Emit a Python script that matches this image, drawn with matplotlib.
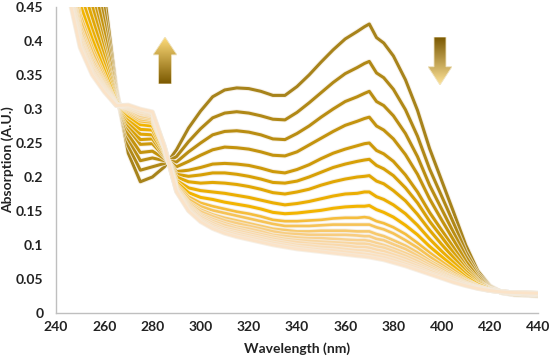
import numpy as np
import matplotlib
matplotlib.use("Agg")
import matplotlib.pyplot as plt
import matplotlib.patheffects as pe
from matplotlib.colors import LinearSegmentedColormap
from matplotlib.patches import Polygon

plt.rcParams['font.family'] = ['Lato', 'DejaVu Sans']

wavelength = [240, 245, 250, 255, 260, 265, 270, 275, 280, 285, 290, 295, 300, 305,
              310, 315, 320, 325, 330, 335, 340, 345, 350, 355, 360, 365, 368, 370,
              373, 376, 380, 385, 390, 395, 400, 405, 410, 415, 420, 425, 430, 440]

s01 = [0.95, 0.80, 0.68, 0.59, 0.47, 0.33, 0.235, 0.193, 0.200, 0.215, 0.240, 0.272, 0.297, 0.318,
       0.328, 0.331, 0.330, 0.326, 0.320, 0.320, 0.333, 0.350, 0.369, 0.387, 0.403, 0.414, 0.421, 0.425,
       0.405, 0.397, 0.378, 0.343, 0.298, 0.242, 0.195, 0.148, 0.100, 0.062, 0.040, 0.030, 0.027, 0.025]
s02 = [0.888, 0.747, 0.634, 0.552, 0.447, 0.326, 0.246, 0.210, 0.215, 0.220, 0.230, 0.252, 0.271, 0.287,
       0.294, 0.296, 0.294, 0.290, 0.285, 0.284, 0.295, 0.309, 0.324, 0.339, 0.352, 0.361, 0.367, 0.370,
       0.353, 0.346, 0.329, 0.299, 0.260, 0.212, 0.172, 0.132, 0.090, 0.058, 0.039, 0.030, 0.027, 0.026]
s03 = [0.837, 0.704, 0.596, 0.520, 0.428, 0.323, 0.256, 0.224, 0.228, 0.224, 0.222, 0.237, 0.250, 0.262,
       0.267, 0.268, 0.266, 0.262, 0.256, 0.255, 0.264, 0.275, 0.288, 0.300, 0.311, 0.318, 0.323, 0.326,
       0.311, 0.305, 0.290, 0.264, 0.230, 0.188, 0.153, 0.118, 0.083, 0.055, 0.038, 0.030, 0.028, 0.026]
s04 = [0.794, 0.668, 0.564, 0.494, 0.412, 0.320, 0.263, 0.236, 0.238, 0.227, 0.215, 0.223, 0.232, 0.240,
       0.244, 0.243, 0.241, 0.237, 0.232, 0.231, 0.237, 0.247, 0.257, 0.267, 0.276, 0.282, 0.286, 0.288,
       0.275, 0.269, 0.256, 0.233, 0.204, 0.168, 0.137, 0.107, 0.076, 0.052, 0.037, 0.030, 0.028, 0.027]
s05 = [0.751, 0.632, 0.532, 0.468, 0.396, 0.317, 0.271, 0.248, 0.249, 0.230, 0.208, 0.210, 0.214, 0.219,
       0.220, 0.219, 0.217, 0.213, 0.208, 0.206, 0.211, 0.218, 0.227, 0.235, 0.241, 0.246, 0.249, 0.250,
       0.239, 0.234, 0.223, 0.203, 0.178, 0.148, 0.122, 0.096, 0.069, 0.049, 0.036, 0.031, 0.029, 0.027]
s06 = [0.724, 0.609, 0.512, 0.451, 0.386, 0.316, 0.276, 0.255, 0.256, 0.232, 0.204, 0.201, 0.203, 0.206,
       0.206, 0.204, 0.201, 0.197, 0.192, 0.191, 0.194, 0.200, 0.207, 0.214, 0.219, 0.223, 0.225, 0.226,
       0.217, 0.212, 0.202, 0.184, 0.162, 0.135, 0.112, 0.088, 0.065, 0.047, 0.036, 0.031, 0.029, 0.027]
s07 = [0.697, 0.586, 0.492, 0.434, 0.376, 0.314, 0.281, 0.263, 0.262, 0.235, 0.200, 0.193, 0.191, 0.192,
       0.191, 0.189, 0.186, 0.182, 0.177, 0.175, 0.178, 0.182, 0.188, 0.193, 0.197, 0.200, 0.201, 0.202,
       0.194, 0.190, 0.180, 0.165, 0.145, 0.122, 0.101, 0.081, 0.061, 0.045, 0.036, 0.031, 0.029, 0.028]
s08 = [0.669, 0.562, 0.471, 0.417, 0.366, 0.312, 0.286, 0.270, 0.269, 0.237, 0.195, 0.184, 0.180, 0.178,
       0.176, 0.173, 0.170, 0.166, 0.162, 0.159, 0.161, 0.164, 0.168, 0.172, 0.175, 0.176, 0.178, 0.178,
       0.171, 0.167, 0.159, 0.146, 0.129, 0.109, 0.091, 0.074, 0.057, 0.043, 0.035, 0.031, 0.029, 0.028]
s09 = [0.646, 0.543, 0.454, 0.403, 0.357, 0.311, 0.290, 0.277, 0.275, 0.238, 0.192, 0.177, 0.170, 0.167,
       0.163, 0.160, 0.157, 0.153, 0.148, 0.146, 0.147, 0.149, 0.151, 0.154, 0.156, 0.157, 0.157, 0.158,
       0.152, 0.148, 0.141, 0.129, 0.115, 0.098, 0.083, 0.068, 0.053, 0.042, 0.035, 0.031, 0.029, 0.028]
s10 = [0.626, 0.526, 0.439, 0.391, 0.350, 0.309, 0.294, 0.282, 0.280, 0.240, 0.189, 0.171, 0.162, 0.157,
       0.153, 0.149, 0.146, 0.142, 0.137, 0.135, 0.135, 0.136, 0.137, 0.139, 0.140, 0.140, 0.141, 0.140,
       0.135, 0.132, 0.126, 0.116, 0.103, 0.089, 0.076, 0.063, 0.050, 0.040, 0.034, 0.031, 0.030, 0.028]
s11 = [0.615, 0.516, 0.431, 0.384, 0.345, 0.309, 0.296, 0.285, 0.283, 0.241, 0.187, 0.167, 0.157, 0.151,
       0.147, 0.143, 0.139, 0.135, 0.131, 0.128, 0.128, 0.128, 0.129, 0.130, 0.130, 0.130, 0.130, 0.130,
       0.126, 0.123, 0.117, 0.107, 0.096, 0.083, 0.071, 0.059, 0.048, 0.040, 0.034, 0.031, 0.030, 0.028]
s12 = [0.603, 0.506, 0.422, 0.376, 0.341, 0.308, 0.298, 0.288, 0.285, 0.242, 0.185, 0.163, 0.152, 0.145,
       0.140, 0.136, 0.132, 0.128, 0.124, 0.122, 0.120, 0.120, 0.121, 0.121, 0.121, 0.120, 0.120, 0.120,
       0.116, 0.113, 0.107, 0.099, 0.089, 0.077, 0.067, 0.056, 0.047, 0.039, 0.034, 0.031, 0.030, 0.029]
s13 = [0.595, 0.500, 0.416, 0.372, 0.338, 0.307, 0.300, 0.290, 0.287, 0.242, 0.184, 0.161, 0.149, 0.142,
       0.136, 0.132, 0.128, 0.124, 0.120, 0.117, 0.116, 0.115, 0.115, 0.115, 0.115, 0.114, 0.113, 0.113,
       0.109, 0.107, 0.101, 0.094, 0.084, 0.074, 0.064, 0.054, 0.045, 0.038, 0.034, 0.031, 0.030, 0.029]
s14 = [0.587, 0.493, 0.410, 0.367, 0.335, 0.307, 0.301, 0.293, 0.289, 0.243, 0.182, 0.159, 0.145, 0.138,
       0.132, 0.127, 0.124, 0.120, 0.115, 0.113, 0.111, 0.110, 0.110, 0.109, 0.108, 0.107, 0.107, 0.106,
       0.103, 0.100, 0.095, 0.088, 0.080, 0.070, 0.061, 0.052, 0.044, 0.038, 0.034, 0.031, 0.030, 0.029]
s15 = [0.582, 0.488, 0.406, 0.363, 0.333, 0.306, 0.302, 0.294, 0.291, 0.243, 0.181, 0.157, 0.143, 0.135,
       0.129, 0.124, 0.120, 0.116, 0.112, 0.109, 0.107, 0.106, 0.105, 0.104, 0.103, 0.102, 0.102, 0.101,
       0.098, 0.096, 0.091, 0.084, 0.076, 0.067, 0.059, 0.051, 0.043, 0.037, 0.033, 0.031, 0.030, 0.029]
s16 = [0.576, 0.483, 0.402, 0.360, 0.331, 0.306, 0.303, 0.296, 0.292, 0.244, 0.180, 0.155, 0.141, 0.132,
       0.125, 0.121, 0.117, 0.113, 0.109, 0.106, 0.104, 0.102, 0.101, 0.100, 0.099, 0.097, 0.097, 0.096,
       0.093, 0.091, 0.086, 0.080, 0.072, 0.064, 0.057, 0.049, 0.042, 0.037, 0.033, 0.031, 0.030, 0.029]
s17 = [0.570, 0.478, 0.397, 0.356, 0.329, 0.306, 0.304, 0.297, 0.294, 0.244, 0.180, 0.153, 0.138, 0.129,
       0.122, 0.118, 0.114, 0.110, 0.106, 0.103, 0.100, 0.099, 0.097, 0.096, 0.094, 0.092, 0.092, 0.091,
       0.088, 0.086, 0.082, 0.076, 0.069, 0.062, 0.055, 0.048, 0.042, 0.037, 0.033, 0.031, 0.030, 0.029]
s18 = [0.565, 0.474, 0.393, 0.353, 0.327, 0.305, 0.305, 0.299, 0.295, 0.245, 0.179, 0.151, 0.136, 0.126,
       0.120, 0.115, 0.111, 0.107, 0.103, 0.100, 0.097, 0.095, 0.093, 0.092, 0.090, 0.088, 0.087, 0.086,
       0.084, 0.082, 0.078, 0.072, 0.066, 0.059, 0.053, 0.046, 0.041, 0.036, 0.033, 0.031, 0.030, 0.029]
s19 = [0.56, 0.47, 0.39, 0.35, 0.325, 0.305, 0.306, 0.300, 0.296, 0.245, 0.178, 0.150, 0.134, 0.124,
       0.117, 0.112, 0.108, 0.104, 0.100, 0.097, 0.094, 0.092, 0.090, 0.088, 0.086, 0.084, 0.083, 0.082,
       0.080, 0.078, 0.074, 0.069, 0.063, 0.057, 0.051, 0.045, 0.040, 0.036, 0.033, 0.031, 0.030, 0.029]

series = [s01, s02, s03, s04, s05, s06, s07, s08, s09, s10,
          s11, s12, s13, s14, s15, s16, s17, s18, s19]

colors = ['#A7831B', '#B08816', '#B98D12', '#C3930E', '#CD990A', '#D7A006', '#E1A704',
          '#EBAE02', '#F2B400', '#F5BD3C', '#F6C356', '#F7C96C', '#F8CD80', '#F9D291',
          '#F9D69F', '#FAD9AB', '#FADDB6', '#FBE0BF', '#FBE3C8']

x_ticks = [240, 260, 280, 300, 320, 340, 360, 380, 400, 420, 440]
y_ticks = [0, 0.05, 0.1, 0.15, 0.2, 0.25, 0.3, 0.35, 0.4, 0.45]
y_tick_labels = ['0', '0.05', '0.1', '0.15', '0.2', '0.25', '0.3', '0.35', '0.4', '0.45']

fig = plt.figure(figsize=(5.5, 3.59), dpi=100)
ax = fig.add_axes([56/550, 1-313/359, 482/550, 306/359])

for i, (vals, col) in enumerate(zip(series, colors)):
    lw = 2.2 if i < 9 else 1.9
    ax.plot(wavelength, vals, color=col, lw=lw, solid_joinstyle='round', solid_capstyle='round',
            path_effects=[pe.Stroke(linewidth=lw + 1.4, foreground='#F4EBDD', alpha=0.75), pe.Normal()],
            zorder=2 + i * 0.01)

ax.set_xlim(240, 440)
ax.set_ylim(0, 0.45)
ax.set_xticks(x_ticks)
ax.set_yticks(y_ticks)
ax.set_yticklabels(y_tick_labels)
for s in ['top', 'right']:
    ax.spines[s].set_visible(False)
for s in ['left', 'bottom']:
    ax.spines[s].set_color('#BFBFBF')
    ax.spines[s].set_linewidth(1.0)
ax.tick_params(axis='both', length=0, labelsize=10, colors='#222222')
ax.tick_params(axis='y', pad=9)
ax.tick_params(axis='x', pad=6)
for lab in ax.get_xticklabels() + ax.get_yticklabels():
    lab.set_fontweight('bold')

fig.text(297/550, 1-349/359, 'Wavelength (nm)', ha='center', va='center', fontsize=10,
         fontweight='bold', color='#222222')
fig.text(8/550, 1-160/359, 'Absorption (A.U.)', ha='center', va='center', rotation=90,
         fontsize=10, fontweight='bold', color='#222222')


def gradient_arrow(px_left, px_top, px_w, px_h, up, c_top, c_bottom, body_frac, head_frac):
    aa = fig.add_axes([px_left/550, 1-(px_top+px_h)/359, px_w/550, px_h/359])
    aa.set_xlim(0, 1)
    aa.set_ylim(0, 1)
    aa.axis('off')
    b0 = 0.5 - body_frac/2
    b1 = 0.5 + body_frac/2
    if up:
        hb = 1 - head_frac
        pts = [(b0, 0), (b1, 0), (b1, hb), (1, hb), (0.5, 1), (0, hb), (b0, hb)]
    else:
        hb = head_frac
        pts = [(b0, 1), (b1, 1), (b1, hb), (1, hb), (0.5, 0), (0, hb), (b0, hb)]
    poly = Polygon(pts, closed=True, facecolor='none', edgecolor='#EFE3C0', lw=0.6, zorder=3)
    aa.add_patch(poly)
    cmap = LinearSegmentedColormap.from_list('g', [c_bottom, c_top])
    grad = np.linspace(0, 1, 256).reshape(-1, 1)
    im = aa.imshow(grad, extent=[0, 1, 0, 1], origin='lower', cmap=cmap, aspect='auto', zorder=2)
    im.set_clip_path(poly)


gradient_arrow(153, 37, 24, 47, True, '#FFDC7A', '#7A5800', 0.55, 0.38)
gradient_arrow(428, 37, 24, 48, False, '#7A5800', '#FFE49A', 0.5, 0.38)

fig.savefig('out.png', dpi=100)
